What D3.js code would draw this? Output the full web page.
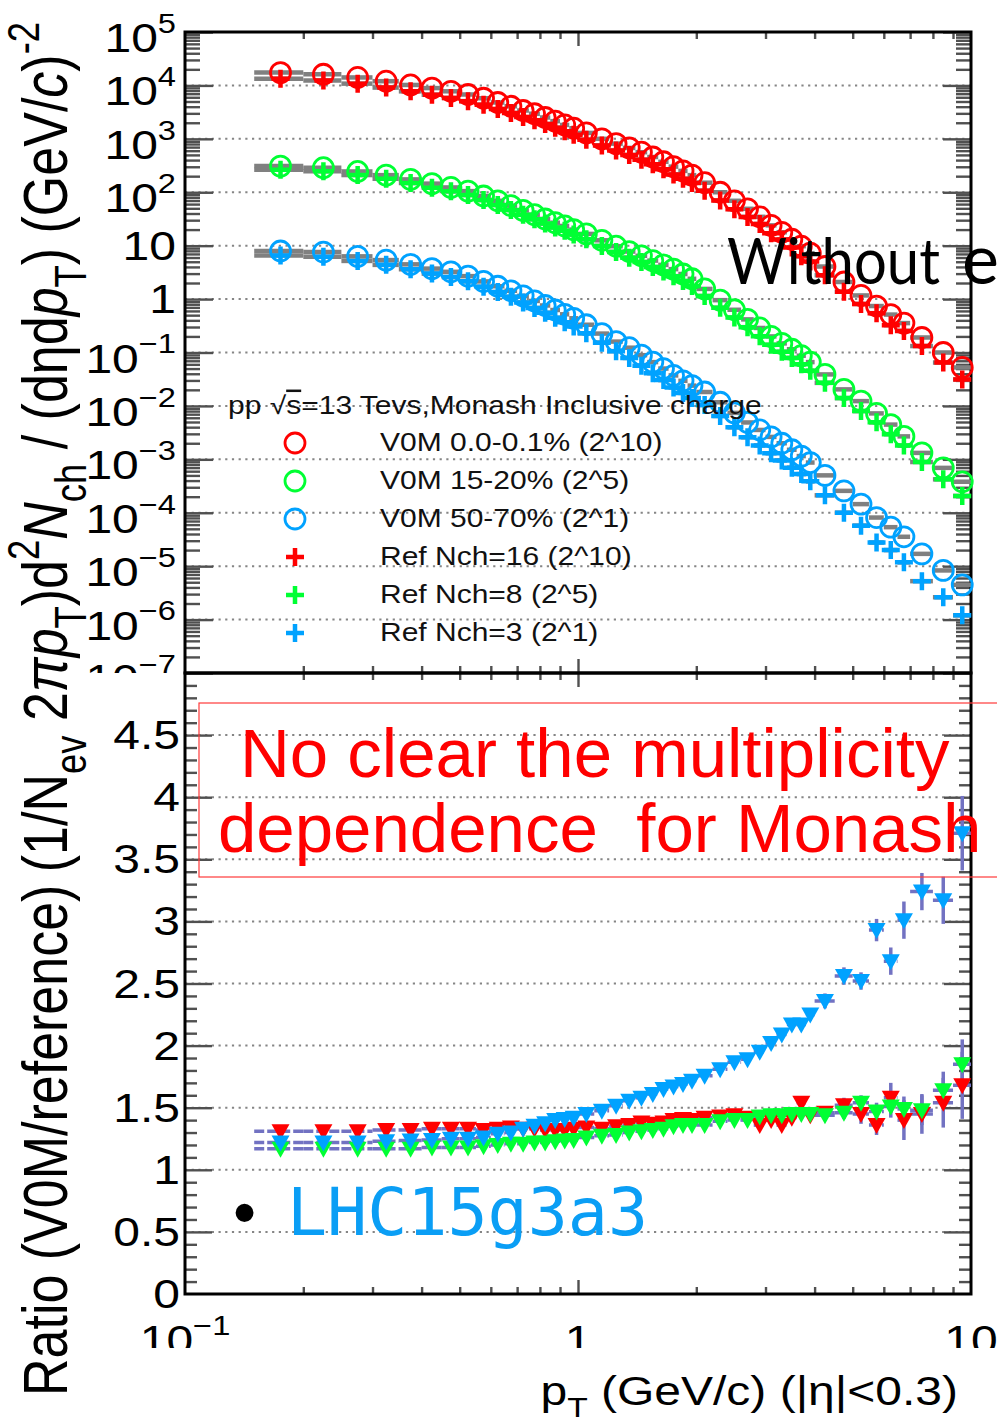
<!DOCTYPE html>
<html>
<head>
<meta charset="utf-8">
<script src="https://cdn.jsdelivr.net/npm/d3@7"></script>
<style>
  html, body { margin: 0; padding: 0; background: #fff; }
  svg { display: block; }
</style>
</head>
<body>
<svg id="fig" width="997" height="1428"></svg>
<script>
// ---------------- data ----------------
// pT binning (GeV/c)
const ptEdges = [0.15,0.2,0.25,0.3,0.35,0.4,0.45,0.5,0.55,0.6,0.65,0.7,0.75,0.8,0.85,0.9,0.95,1.0,
  1.1,1.2,1.3,1.4,1.5,1.6,1.7,1.8,1.9,2.0,2.2,2.4,2.6,2.8,3.0,3.2,3.4,3.6,3.8,4.0,
  4.5,5.0,5.5,6.0,6.5,7.0,8.0,9.0,10.0];
const ptCenters = [0.175,0.225,0.275,0.325,0.375,0.425,0.475,0.525,0.575,0.625,0.675,0.725,0.775,0.825,0.875,0.925,0.975,
  1.05,1.15,1.25,1.35,1.45,1.55,1.65,1.75,1.85,1.95,2.1,2.3,2.5,2.7,2.9,3.1,3.3,3.5,3.7,3.9,
  4.25,4.75,5.25,5.75,6.25,6.75,7.5,8.5,9.5];

// scaled spectra, V0M classes (open circles)
const v0mHigh = [1.74e4,1.62e4,1.41e4,1.20e4,1.02e4,8910,7760,6760,5750,4790,
  4070,3390,2950,2510,2140,1820,1580,1290,1000,813,
  676,562,457,372,302,251,209,151,100,69.2,
  49.0,34.7,24.0,17.8,13.2,9.77,7.24,4.07,2.09,1.17,
  0.741,0.513,0.355,0.191,0.100,0.0525];
const v0mMid = [309,288,245,209,174,145,123,105,85.1,69.2,
  56.2,45.7,38.0,31.6,26.9,23.4,20.0,16.6,12.6,9.77,
  7.76,6.46,5.25,4.37,3.63,2.95,2.40,1.55,0.955,0.631,
  0.417,0.288,0.200,0.148,0.115,0.0871,0.0661,0.0389,0.0204,0.0123,
  0.00724,0.00447,0.00269,0.00132,0.000692,0.000380];
const v0mLow = [7.94,7.59,6.31,5.37,4.47,3.72,3.24,2.69,2.14,1.74,
  1.43,1.15,0.923,0.759,0.624,0.519,0.437,0.331,0.226,0.160,
  0.123,0.0891,0.0661,0.0501,0.0372,0.0295,0.0240,0.0182,0.0117,0.00741,
  0.00490,0.00355,0.00263,0.00200,0.00151,0.00115,0.000871,0.000501,0.000257,0.000145,
  8.13e-5,5.37e-5,3.55e-5,1.70e-5,8.32e-6,4.47e-6];

// scaled spectra, reference Nch classes (crosses)
const refNch16 = [1.33e4,1.24e4,1.08e4,9110,7750,6700,5830,5080,4360,3600,
  3040,2550,2220,1900,1620,1380,1190,962,752,603,
  497,407,334,269,216,178,149,107,70.0,48.1,
  34.5,25.5,17.1,13.1,9.29,6.35,5.04,2.79,1.37,0.811,
  0.545,0.325,0.254,0.132,0.0649,0.0313];
const refNch8 = [264,247,210,179,149,122,104,88.7,71.5,57.7,
  46.5,37.8,31.2,25.9,21.9,19.0,16.1,13.2,9.87,7.64,
  5.97,4.93,3.98,3.28,2.69,2.17,1.76,1.14,0.687,0.451,
  0.298,0.202,0.139,0.103,0.0793,0.0601,0.0456,0.0270,0.0140,0.00799,
  0.00493,0.00296,0.00181,0.000891,0.000422,0.000206];
const refNch3 = [6.52,6.22,5.18,4.37,3.62,3.00,2.59,2.15,1.70,1.35,
  1.10,0.863,0.681,0.552,0.446,0.368,0.308,0.229,0.153,0.106,
  0.0791,0.0564,0.0410,0.0304,0.0222,0.0175,0.0140,0.0104,0.00649,0.00398,
  0.00259,0.00182,0.00130,0.000955,0.000698,0.000529,0.000387,0.000212,0.000100,5.74e-5,
  2.77e-5,2.00e-5,1.18e-5,5.24e-6,2.62e-6,1.20e-6];

// ratios V0M / reference
const ratioHigh = [1.31,1.31,1.31,1.32,1.32,1.33,1.33,1.33,1.32,1.33,
  1.34,1.33,1.33,1.32,1.32,1.32,1.33,1.34,1.33,1.35,
  1.36,1.38,1.37,1.38,1.40,1.41,1.40,1.42,1.43,1.44,
  1.42,1.36,1.40,1.36,1.42,1.54,1.44,1.46,1.52,1.45,
  1.36,1.58,1.40,1.45,1.54,1.68];
const ratioMid = [1.17,1.17,1.17,1.17,1.17,1.18,1.18,1.18,1.19,1.20,
  1.21,1.21,1.22,1.22,1.23,1.235,1.24,1.26,1.275,1.28,
  1.30,1.31,1.32,1.33,1.35,1.36,1.36,1.36,1.39,1.40,
  1.40,1.43,1.44,1.44,1.45,1.45,1.45,1.44,1.46,1.54,
  1.47,1.51,1.49,1.48,1.64,1.85];
const ratioLow = [1.22,1.22,1.22,1.23,1.235,1.24,1.25,1.25,1.26,1.29,
  1.30,1.33,1.355,1.375,1.40,1.41,1.42,1.45,1.476,1.515,
  1.556,1.58,1.61,1.65,1.67,1.69,1.717,1.757,1.81,1.865,
  1.89,1.95,2.02,2.09,2.17,2.17,2.25,2.36,2.56,2.52,
  2.93,2.68,3.01,3.24,3.17,3.71];

// statistical uncertainties of the ratios
const ratioErrHigh = [0.01,0.01,0.01,0.01,0.01,0.01,0.01,0.01,0.01,0.01,
  0.01,0.01,0.01,0.01,0.01,0.01,0.01,0.012,0.012,0.012,
  0.012,0.012,0.012,0.012,0.012,0.012,0.012,0.015,0.02,0.02,
  0.025,0.025,0.03,0.03,0.035,0.04,0.04,0.05,0.06,0.08,
  0.08,0.12,0.16,0.16,0.2,0.27];
const ratioErrMid = [0.008,0.008,0.008,0.008,0.008,0.008,0.008,0.008,0.008,0.008,
  0.008,0.008,0.008,0.008,0.008,0.008,0.008,0.01,0.01,0.01,
  0.01,0.01,0.01,0.01,0.01,0.01,0.01,0.012,0.015,0.015,
  0.02,0.02,0.025,0.025,0.03,0.03,0.035,0.04,0.05,0.06,
  0.07,0.09,0.1,0.12,0.15,0.2];
const ratioErrLow = [0.01,0.01,0.01,0.01,0.01,0.01,0.01,0.01,0.01,0.01,
  0.01,0.01,0.01,0.01,0.01,0.01,0.01,0.012,0.012,0.012,
  0.012,0.012,0.012,0.012,0.012,0.012,0.012,0.015,0.02,0.02,
  0.025,0.03,0.03,0.035,0.04,0.045,0.05,0.06,0.07,0.07,
  0.09,0.11,0.15,0.15,0.19,0.3];

const legendTitle = "Monash Inclusive charge";
const legendLabels = ["V0M 0.0-0.1% (2^10)", "V0M 15-20% (2^5)", "V0M 50-70% (2^1)",
  "Ref Nch=16 (2^10)", "Ref Nch=8 (2^5)", "Ref Nch=3 (2^1)"];

const yTopTicks = [1e5,1e4,1e3,1e2,10,1,1e-1,1e-2,1e-3,1e-4,1e-5,1e-6,1e-7];
const yBotTicks = [0,0.5,1,1.5,2,2.5,3,3.5,4,4.5];
const xTickLabels = [0.1, 1, 10];

// ---------------- setup ----------------
const RED = "#ff0000", GREEN = "#00ff33", BLUE = "#00a2ff";
const ERR_GRAY = "#808080", ERR_SLATE = "#7272c2";
const FONT = "'Liberation Sans', Arial, Helvetica, sans-serif";
const SX = 1.2; // horizontal glyph stretch of the plot lettering

const svg = d3.select("#fig");
svg.append("rect").attr("width", 997).attr("height", 1428).attr("fill", "#fff");

const x = d3.scaleLog().domain([0.1, 10]).range([185, 971]);
const yTop = d3.scaleLog().domain([1e-7, 1e5]).range([673, 32]);
const yBot = d3.scaleLinear().domain([0, 5]).range([1294, 673]);

const defs = svg.append("defs");
defs.append("clipPath").attr("id", "clipTopLab")
  .append("rect").attr("x", 0).attr("y", 0).attr("width", 185).attr("height", 673);
defs.append("clipPath").attr("id", "clipXLab")
  .append("rect").attr("x", 0).attr("y", 1300).attr("width", 997).attr("height", 48);

// ---------------- grid ----------------
const gridG = svg.append("g").attr("stroke", "#858585").attr("stroke-width", 2)
  .attr("stroke-dasharray", "2.2 4.5");
yTopTicks.filter(v => v < 1e5 && v > 1e-7).forEach(v => {
  gridG.append("line").attr("x1", 185).attr("x2", 971).attr("y1", yTop(v)).attr("y2", yTop(v));
});
yBotTicks.filter(v => v > 0).forEach(v => {
  gridG.append("line").attr("x1", 185).attr("x2", 971).attr("y1", yBot(v)).attr("y2", yBot(v));
});

// ---------------- ticks ----------------
function ticks(axisFn, scale, vals, size, tx, ty) {
  const g = svg.append("g").attr("transform", `translate(${tx},${ty})`)
    .call(axisFn(scale).tickValues(vals).tickSize(size).tickFormat(""));
  g.select(".domain").remove();
  g.selectAll(".tick line").attr("stroke", "#505050").attr("stroke-width", 2.4);
}
const logMajors = d3.range(-7, 6).map(e => Math.pow(10, e));
const logMinors = [];
for (let e = -7; e < 5; e++) for (let k = 2; k <= 9; k++) logMinors.push(k * Math.pow(10, e));
const xMinors = [0.2,0.3,0.4,0.5,0.6,0.7,0.8,0.9,2,3,4,5,6,7,8,9];
const xMajors = [1];
const linMinors = d3.range(0, 50).map(i => i / 10).filter(v => Math.round(v * 10) % 5 !== 0);
const linMajors = [0.5,1,1.5,2,2.5,3,3.5,4,4.5];

ticks(d3.axisRight, yTop, logMinors, 15, 185, 0);
ticks(d3.axisRight, yTop, logMajors, 28, 185, 0);
ticks(d3.axisLeft, yTop, logMinors, 15, 971, 0);
ticks(d3.axisLeft, yTop, logMajors, 28, 971, 0);
ticks(d3.axisRight, yBot, linMinors, 12, 185, 0);
ticks(d3.axisRight, yBot, linMajors, 27, 185, 0);
ticks(d3.axisLeft, yBot, linMinors, 12, 971, 0);
ticks(d3.axisLeft, yBot, linMajors, 27, 971, 0);
[[d3.axisBottom, 32], [d3.axisTop, 673], [d3.axisBottom, 673], [d3.axisTop, 1294]].forEach(([fn, ty]) => {
  ticks(fn, x, xMinors, 7, 0, ty);
  ticks(fn, x, xMajors, 14, 0, ty);
});

// ---------------- frames ----------------
svg.append("rect").attr("x", 185).attr("y", 32).attr("width", 971 - 185).attr("height", 673 - 32)
  .attr("fill", "none").attr("stroke", "#000").attr("stroke-width", 3);
svg.append("rect").attr("x", 185).attr("y", 673).attr("width", 971 - 185).attr("height", 1294 - 673)
  .attr("fill", "none").attr("stroke", "#000").attr("stroke-width", 3);

// ---------------- upper panel: spectra ----------------
const spectra = [
  { vals: v0mHigh, color: RED, kind: "circle" },
  { vals: v0mMid, color: GREEN, kind: "circle" },
  { vals: v0mLow, color: BLUE, kind: "circle" },
  { vals: refNch16, color: RED, kind: "plus" },
  { vals: refNch8, color: GREEN, kind: "plus" },
  { vals: refNch3, color: BLUE, kind: "plus" }
];
const pts = s => s.vals.map((v, i) => ({ pt: ptCenters[i], lo: ptEdges[i], hi: ptEdges[i + 1], v }));

const specErr = svg.append("g");
spectra.forEach(s => {
  specErr.selectAll(null).data(pts(s)).enter().append("line")
    .attr("x1", d => x(d.lo)).attr("x2", d => x(d.hi))
    .attr("y1", d => yTop(d.v)).attr("y2", d => yTop(d.v))
    .attr("stroke", ERR_GRAY).attr("stroke-width", 4.5);
});
const plusPath = "M-9,0H9M0,-9V9";
function drawMarker(g, kind, color) {
  if (kind === "circle") {
    g.append("circle").attr("r", 10).attr("fill", "none").attr("stroke", color).attr("stroke-width", 2.8);
  } else {
    g.append("path").attr("d", plusPath).attr("stroke", color).attr("stroke-width", 4.5).attr("fill", "none");
  }
}
spectra.forEach(s => {
  const g = svg.append("g");
  g.selectAll(null).data(pts(s)).enter().append("g")
    .attr("transform", d => `translate(${x(d.pt)},${yTop(d.v)})`)
    .each(function () { drawMarker(d3.select(this), s.kind, s.color); });
});

// ---------------- lower panel: ratios ----------------
const ratios = [
  { vals: ratioHigh, errs: ratioErrHigh, color: RED },
  { vals: ratioMid, errs: ratioErrMid, color: GREEN },
  { vals: ratioLow, errs: ratioErrLow, color: BLUE }
];
const rpts = s => s.vals.map((v, i) => ({ pt: ptCenters[i], lo: ptEdges[i], hi: ptEdges[i + 1], v, e: s.errs[i] }));
const ratioErr = svg.append("g").attr("stroke", ERR_SLATE).attr("stroke-width", 3.5);
ratios.forEach(s => {
  const d = rpts(s);
  ratioErr.selectAll(null).data(d).enter().append("line")
    .attr("x1", p => x(p.lo)).attr("x2", p => x(p.hi))
    .attr("y1", p => yBot(p.v)).attr("y2", p => yBot(p.v))
    .attr("stroke-dasharray", "10 3");
  ratioErr.selectAll(null).data(d).enter().append("line")
    .attr("x1", p => x(p.pt)).attr("x2", p => x(p.pt))
    .attr("y1", p => yBot(p.v - p.e)).attr("y2", p => yBot(p.v + p.e));
});
const triDown = "M-9,-7L9,-7L0,9Z";
ratios.forEach(s => {
  svg.append("g").selectAll(null).data(rpts(s)).enter().append("path")
    .attr("d", triDown)
    .attr("transform", p => `translate(${x(p.pt)},${yBot(p.v)})`)
    .attr("fill", s.color);
});

// ---------------- tick labels ----------------
function stretched(parent, tx, ty) {
  return parent.append("g").attr("transform", `translate(${tx},${ty}) scale(${SX},1)`)
    .append("text").attr("font-family", FONT).attr("fill", "#000");
}
function powerLabel(t, v, size) {
  const e = Math.round(Math.log10(v));
  if (e === 0) { t.text("1"); return; }
  if (e === 1) { t.text("10"); return; }
  t.append("tspan").text("10");
  t.append("tspan").attr("dy", -0.48 * size).attr("font-size", size * 0.68)
    .text(e < 0 ? "\u2212" + (-e) : String(e));
}
const yTopLab = svg.append("g").attr("clip-path", "url(#clipTopLab)");
yTopTicks.forEach(v => {
  const e = Math.round(Math.log10(v));
  const t = stretched(yTopLab, 176, yTop(v) + (e === 0 || e === 1 ? 14 : 20))
    .attr("font-size", 40).attr("text-anchor", "end");
  powerLabel(t, v, 40);
});
yBotTicks.forEach(v => {
  stretched(svg, 180, yBot(v) + 14).attr("font-size", 40).attr("text-anchor", "end")
    .text(d3.format("~g")(v));
});
const xLab = svg.append("g").attr("clip-path", "url(#clipXLab)");
xTickLabels.forEach(v => {
  const t = stretched(xLab, x(v), 1354).attr("font-size", 40).attr("text-anchor", "middle");
  powerLabel(t, v, 40);
});

// ---------------- axis titles ----------------
function rotatedTitle(tx, ty, anchor) {
  return svg.append("g").attr("transform", `translate(${tx},${ty}) scale(${SX},1) rotate(-90)`)
    .append("text").attr("font-family", FONT).attr("font-size", 52).attr("text-anchor", anchor).attr("fill", "#000");
}
function addParts(t, parts, size) {
  let shift = 0;
  parts.forEach(([txt, mode, ital]) => {
    const target = mode === "sub" ? 0.3 * size : mode === "sup" ? -0.45 * size : 0;
    const sp = t.append("tspan").attr("dy", target - shift).text(txt);
    shift = target;
    if (mode !== "n") sp.attr("font-size", size * 0.7);
    if (ital) sp.attr("font-style", "italic");
  });
}
const yTitleTop = rotatedTitle(67, 22, "end");
addParts(yTitleTop, [
  ["(1/N", "n"], ["ev", "sub"], [" 2", "n"], ["\u03c0", "n", true], ["p", "n", true], ["T", "sub"],
  [")d", "n"], ["2", "sup"], ["N", "n", true], ["ch", "sub"], [" / (d\u03b7d", "n"], ["p", "n", true],
  ["T", "sub"], [") (GeV/", "n"], ["c", "n", true], [")", "n"], ["-2", "sup"]
], 52);
rotatedTitle(67, 1396, "start").text("Ratio (V0M/reference)");

const xTitle = stretched(svg, 958, 1405).attr("font-size", 40).attr("text-anchor", "end");
addParts(xTitle, [["p", "n"], ["T", "sub"], [" (GeV/c) (|\u03b7|<0.3)", "n"]], 40);

// ---------------- legend ----------------
const legTitle = stretched(svg, 228, 414).attr("font-size", 25).attr("fill", "#111");
legTitle.append("tspan").text("pp \u221a");
legTitle.append("tspan").style("text-decoration", "overline").text("s");
legTitle.append("tspan").text("=13 Tevs," + legendTitle);
legendLabels.forEach((lab, i) => {
  const yc = 443 + i * 38;
  const g = svg.append("g").attr("transform", `translate(295,${yc})`);
  drawMarker(g, spectra[i].kind, spectra[i].color);
  stretched(svg, 380, yc + 8).attr("font-size", 25).attr("fill", "#111").text(lab);
});

// ---------------- annotations ----------------
svg.append("text").attr("x", 727).attr("y", 284).attr("font-family", "Lato, 'Open Sans', sans-serif")
  .attr("font-size", 64).attr("textLength", 213).attr("lengthAdjust", "spacingAndGlyphs")
  .attr("fill", "#000").text("Without");
svg.append("text").attr("x", 962).attr("y", 284).attr("font-family", "Lato, 'Open Sans', sans-serif")
  .attr("font-size", 70).attr("fill", "#000").text("e");

svg.append("rect").attr("x", 199).attr("y", 703).attr("width", 820).attr("height", 174)
  .attr("fill", "none").attr("stroke", "#ff3a3a").attr("stroke-width", 1.2);
svg.append("text").attr("x", 240).attr("y", 777).attr("font-family", FONT).attr("font-size", 69)
  .attr("fill", "#ff0000").text("No clear the multiplicity");
svg.append("text").attr("x", 218).attr("y", 852).attr("font-family", FONT).attr("font-size", 69)
  .attr("fill", "#ff0000").attr("xml:space", "preserve").style("white-space", "pre")
  .text("dependence  for Monash");

svg.append("text").attr("x", 233).attr("y", 1235).attr("font-family", FONT).attr("font-size", 66)
  .attr("fill", "#000").text("\u2022");
svg.append("text").attr("x", 287).attr("y", 1235).attr("font-family", "'DejaVu Sans Mono', 'Liberation Mono', monospace")
  .attr("font-size", 66).attr("textLength", 361).attr("lengthAdjust", "spacingAndGlyphs")
  .attr("fill", "#0a9ef5").text("LHC15g3a3");
</script>
</body>
</html>
